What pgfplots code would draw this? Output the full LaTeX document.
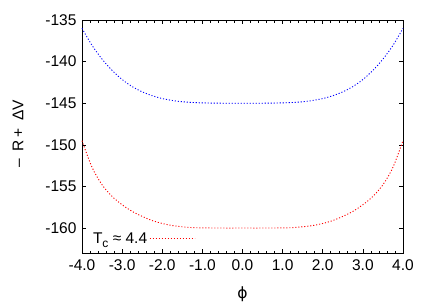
\documentclass[border=0pt]{standalone}
\usepackage{fontspec}
\setmainfont{Liberation Sans}
\newfontfamily\symfont{DejaVu Sans}
\usepackage{pgfplots}
\usetikzlibrary{calc}
\pgfplotsset{compat=1.18}
\begin{document}
\begin{tikzpicture}
\begin{axis}[
  scale only axis, width=321bp, height=233bp,
  xmin=-4, xmax=4, ymin=-163, ymax=-135,
  xtick={-4,-3,...,4}, minor x tick num=4,
  ytick={-160,-155,...,-135},
  tick align=inside, major tick length=4bp, minor tick length=2.5bp,
  /pgf/number format/assume math mode=true,
  xticklabel={\pgfmathprintnumber[fixed,fixed zerofill,precision=1]{\tick}},
  yticklabel={\pgfmathprintnumber[fixed,precision=0]{\tick}},
  tick label style={font=\fontsize{15.5bp}{18bp}\selectfont},
  xticklabel style={yshift=-3bp},
  yticklabel style={xshift=-2bp},
  label style={font=\fontsize{15.5bp}{18bp}\selectfont},
  xlabel={\symfont ϕ},
  ylabel={–\hspace{7bp}R\hspace{3bp}+\hspace{8bp}ΔV},
  xlabel style={at={($(axis description cs:0.5,0)+(0,-41bp)$)}, anchor=center},
  ylabel style={at={($(axis description cs:0,0.5)+(-64bp,3bp)$)}, anchor=center},
  axis line style={line width=0.8bp},
  every tick/.style={line width=0.6bp, black},
  legend style={at={(axis cs:-3.78,-162.3)}, anchor=south west, draw=none, fill=none,
    font=\fontsize{15.5bp}{18bp}\selectfont, inner sep=0pt, row sep=0pt},
  legend plot pos=right,
  legend image code/.code={\draw[#1] (9bp,0bp) -- (54bp,0bp);},
  clip=false,
]
\addplot[blue, line width=0.9bp, dash pattern=on 1.1bp off 1.9bp, smooth, forget plot] coordinates {
(-4.0,-136.0) (-3.75,-138.05) (-3.5,-139.7) (-3.25,-141.05) (-3.0,-142.15)
(-2.75,-143.0) (-2.5,-143.63) (-2.25,-144.1) (-2.0,-144.44) (-1.75,-144.67)
(-1.5,-144.82) (-1.25,-144.91) (-1.0,-144.96) (-0.5,-145.0) (0.0,-145.0)
(0.5,-145.0) (1.0,-144.96) (1.25,-144.91) (1.5,-144.82) (1.75,-144.67)
(2.0,-144.44) (2.25,-144.1) (2.5,-143.63) (2.75,-143.0) (3.0,-142.15)
(3.25,-141.05) (3.5,-139.7) (3.75,-138.05) (4.0,-136.0)
};
\addplot[red, line width=0.9bp, dash pattern=on 1.1bp off 1.9bp, smooth] coordinates {
(-4.0,-149.5) (-3.75,-152.7) (-3.5,-154.8) (-3.25,-156.2) (-3.0,-157.2)
(-2.75,-158.0) (-2.5,-158.6) (-2.25,-159.1) (-2.0,-159.45) (-1.75,-159.7)
(-1.5,-159.85) (-1.25,-159.95) (-1.0,-159.98) (-0.5,-160.0) (0.0,-160.0)
(0.5,-160.0) (1.0,-159.98) (1.25,-159.95) (1.5,-159.85) (1.75,-159.7)
(2.0,-159.45) (2.25,-159.1) (2.5,-158.6) (2.75,-158.0) (3.0,-157.2)
(3.25,-156.2) (3.5,-154.8) (3.75,-152.7) (4.0,-149.5)
};
\addlegendentry{T\raisebox{-0.45ex}{\fontsize{12bp}{14bp}\selectfont c} ≈ 4.4}
\end{axis}
\pgfresetboundingbox
\path[use as bounding box] ($(current axis.south west)+(-82bp,-49bp)$) rectangle ($(current axis.north east)+(28bp,20bp)$);
\end{tikzpicture}
\end{document}
